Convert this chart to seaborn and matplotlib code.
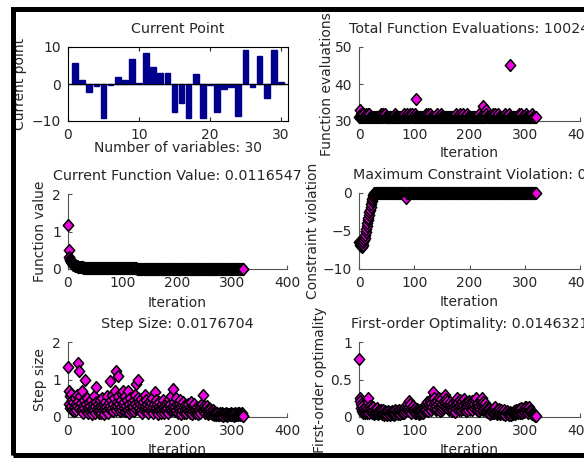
import numpy as np
import seaborn as sns
import matplotlib
matplotlib.use("Agg")
import matplotlib.pyplot as plt
from matplotlib.patches import Rectangle
from matplotlib.markers import MarkerStyle
from matplotlib.path import Path

# current point (30 variables)
var_index = list(range(1, 31))
current_point = [5.8, 1.0, -2.2, -0.6, -9.2, -0.3, 1.9, 1.0, 6.8, 0.2,
                 8.3, 4.5, 2.9, 3.0, -7.6, -5.0, -9.2, 2.7, -9.1, -0.4,
                 -7.6, -1.4, -0.9, -8.7, 9.1, -0.8, 7.5, -3.8, 9.1, 0.5]

# function evaluations per iteration (iterations 0..320)
func_evals = [
    31, 31, 33, 32, 31, 32, 31, 31, 32, 31, 31, 31, 32, 31, 31, 31, 32, 31, 31, 32,
    31, 31, 31, 31, 31, 31, 31, 31, 31, 31, 31, 31, 31, 31, 31, 31, 31, 31, 31, 31,
    32, 31, 31, 31, 32, 31, 31, 32, 31, 31, 31, 31, 31, 31, 31, 31, 31, 31, 31, 31,
    31, 31, 31, 31, 31, 32, 31, 31, 31, 31, 31, 31, 31, 31, 31, 31, 31, 31, 31, 31,
    31, 31, 32, 31, 31, 31, 32, 31, 31, 31, 31, 31, 31, 32, 31, 31, 32, 31, 31, 31,
    31, 32, 31, 31, 36, 31, 31, 31, 31, 31, 31, 31, 31, 31, 31, 31, 31, 31, 31, 31,
    31, 31, 32, 31, 31, 32, 31, 31, 31, 32, 31, 31, 31, 31, 31, 31, 31, 31, 31, 31,
    31, 31, 32, 31, 31, 31, 31, 31, 32, 31, 31, 31, 31, 31, 31, 31, 31, 31, 31, 31,
    31, 31, 31, 31, 31, 31, 31, 31, 31, 31, 31, 31, 31, 31, 31, 31, 32, 31, 31, 31,
    31, 31, 32, 31, 31, 31, 31, 31, 31, 32, 31, 31, 31, 31, 31, 31, 32, 31, 31, 31,
    31, 31, 31, 31, 31, 31, 31, 31, 31, 31, 31, 31, 31, 31, 31, 31, 31, 31, 32, 31,
    31, 31, 31, 31, 31, 34, 31, 31, 31, 33, 32, 31, 31, 31, 31, 31, 31, 31, 31, 31,
    31, 31, 32, 31, 31, 31, 31, 32, 31, 31, 31, 31, 32, 31, 31, 31, 31, 31, 31, 31,
    31, 31, 31, 31, 32, 31, 31, 31, 31, 31, 31, 31, 32, 31, 45, 31, 31, 31, 31, 31,
    31, 31, 31, 31, 31, 31, 31, 31, 31, 32, 31, 31, 31, 31, 32, 31, 31, 31, 31, 31,
    31, 31, 32, 31, 31, 31, 31, 31, 31, 31, 31, 31, 31, 31, 32, 31, 31, 31, 31, 31,
    31]

func_value = [
    1.18, 0.50, 0.33, 0.28, 0.24, 0.21, 0.19, 0.17, 0.15, 0.135,
    0.12, 0.11, 0.10, 0.092, 0.085, 0.079, 0.073, 0.068, 0.064, 0.060,
    0.057, 0.054, 0.051, 0.049, 0.047, 0.045, 0.043, 0.042, 0.040, 0.039,
    0.038, 0.037, 0.036, 0.035, 0.034, 0.033, 0.033, 0.032, 0.031, 0.031,
    0.030, 0.030, 0.029, 0.029, 0.028, 0.028, 0.027, 0.027, 0.027, 0.026,
    0.026, 0.026, 0.025, 0.025, 0.025, 0.024, 0.024, 0.024, 0.023, 0.023,
    0.023, 0.023, 0.022, 0.022, 0.022, 0.022, 0.021, 0.021, 0.021, 0.021,
    0.020, 0.020, 0.020, 0.020, 0.020, 0.019, 0.019, 0.019, 0.019, 0.019,
    0.019, 0.018, 0.018, 0.018, 0.018, 0.018, 0.018, 0.017, 0.017, 0.017,
    0.017, 0.017, 0.017, 0.017, 0.016, 0.016, 0.016, 0.016, 0.016, 0.016,
    0.016, 0.016, 0.016, 0.015, 0.015, 0.015, 0.015, 0.015, 0.015, 0.015,
    0.015, 0.015, 0.015, 0.014, 0.014, 0.014, 0.014, 0.014, 0.014, 0.014,
    0.014, 0.014, 0.014, 0.014, 0.014, 0.014, 0.013, 0.013, 0.013, 0.013,
    0.013, 0.013, 0.013, 0.013, 0.013, 0.013, 0.013, 0.013, 0.013, 0.013,
    0.0129, 0.0129, 0.0128, 0.0128, 0.0128, 0.0127, 0.0127, 0.0127, 0.0126, 0.0126,
    0.0126, 0.0126, 0.0125, 0.0125, 0.0125, 0.0125, 0.0124, 0.0124, 0.0124, 0.0124,
    0.0124, 0.0123, 0.0123, 0.0123, 0.0123, 0.0123, 0.0122, 0.0122, 0.0122, 0.0122,
    0.0122, 0.0122, 0.0121, 0.0121, 0.0121, 0.0121, 0.0121, 0.0121, 0.0121, 0.0120,
    0.0120, 0.0120, 0.0120, 0.0120, 0.0120, 0.0120, 0.0120, 0.0119, 0.0119, 0.0119,
    0.0119, 0.0119, 0.0119, 0.0119, 0.0119, 0.0119, 0.0119, 0.0119, 0.0119, 0.0119,
    0.0119, 0.0119, 0.0118, 0.0118, 0.0118, 0.0118, 0.0118, 0.0118, 0.0118, 0.0118,
    0.0118, 0.0118, 0.0118, 0.0118, 0.0118, 0.0118, 0.0118, 0.0118, 0.0118, 0.0118,
    0.0118, 0.0118, 0.0118, 0.0118, 0.0118, 0.0118, 0.0118, 0.0118, 0.0118, 0.0118,
    0.0118, 0.0118, 0.0118, 0.0118, 0.0118, 0.0118, 0.0117, 0.0117, 0.0117, 0.0117,
    0.0117, 0.0117, 0.0117, 0.0117, 0.0117, 0.0117, 0.0117, 0.0117, 0.0117, 0.0117,
    0.0117, 0.0117, 0.0117, 0.0117, 0.0117, 0.0117, 0.0117, 0.0117, 0.0117, 0.0117,
    0.0117, 0.0117, 0.0117, 0.0117, 0.0117, 0.0117, 0.0117, 0.0117, 0.0117, 0.0117,
    0.0117, 0.0117, 0.0117, 0.0117, 0.0117, 0.0117, 0.0117, 0.0117, 0.0117, 0.0117,
    0.0117, 0.0117, 0.0117, 0.0117, 0.0117, 0.0117, 0.0117, 0.0117, 0.0117, 0.0117,
    0.0117, 0.0117, 0.0117, 0.0117, 0.0117, 0.0117, 0.0117, 0.0117, 0.0117, 0.0117,
    0.0117, 0.0117, 0.0117, 0.0117, 0.0117, 0.0117, 0.0117, 0.0117, 0.0117, 0.0117,
    0.0117, 0.0117, 0.0117, 0.0117, 0.0117, 0.0117, 0.0117, 0.0117, 0.0117, 0.0117,
    0.0116547]

constraint_viol = [
    -6.5, -6.6, -6.8, -6.9, -7.0, -7.1, -7.0, -6.8, -6.5, -6.2,
    -5.9, -5.5, -5.1, -4.8, -4.4, -4.0, -3.6, -3.3, -2.9, -2.5,
    -2.2, -1.8, -1.5, -1.1, -0.8, -0.5, -0.3, -0.1, 0, 0,
    0, 0, 0, 0, 0, 0, 0, 0, 0, 0, 0, 0, 0, 0, 0, 0, 0, 0, 0, 0,
    0, 0, 0, 0, 0, 0, 0, 0, 0, 0, 0, 0, 0, 0, 0, 0, 0, 0, 0, 0,
    0, 0, 0, 0, 0, 0, 0, 0, 0, 0, 0, 0, 0, 0, 0, -0.6, 0, 0, 0, 0,
    0, 0, 0, 0, 0, 0, 0, 0, 0, 0, 0, 0, 0, 0, 0, 0, 0, 0, 0, 0,
    0, 0, 0, 0, 0, 0, 0, 0, 0, 0, 0, 0, 0, 0, 0, 0, 0, 0, 0, 0,
    0, 0, 0, 0, 0, 0, 0, 0, 0, 0, 0, 0, 0, 0, 0, 0, 0, 0, 0, 0,
    0, 0, 0, 0, 0, 0, 0, 0, 0, 0, 0, 0, 0, 0, 0, 0, 0, 0, 0, 0,
    0, 0, 0, 0, 0, 0, 0, 0, 0, 0, 0, 0, 0, 0, 0, 0, 0, 0, 0, 0,
    0, 0, 0, 0, 0, 0, 0, 0, 0, 0, 0, 0, 0, 0, 0, 0, 0, 0, 0, 0,
    0, 0, 0, 0, 0, 0, 0, 0, 0, 0, 0, 0, 0, 0, 0, 0, 0, 0, 0, 0,
    0, 0, 0, 0, 0, 0, 0, 0, 0, 0, 0, 0, 0, 0, 0, 0, 0, 0, 0, 0,
    0, 0, 0, 0, 0, 0, 0, 0, 0, 0, 0, 0, 0, 0, 0, 0, 0, 0, 0, 0,
    0, 0, 0, 0, 0, 0, 0, 0, 0, 0, 0, 0, 0, 0, 0, 0, 0, 0, 0, 0,
    0, 0, 0, 0, 0, 0, 0, 0, 0, 0, 0, 0, 0, 0, 0, 0, 0, 0, 0, 0,
    0, 0, 0, 0, 0, 0, 0, 0, 0, 0, 0]

step_size = [
    1.33, 0.70, 0.35, 0.55, 0.25, 0.62, 0.30, 0.18, 0.45, 0.22, 0.40, 0.15, 0.52, 0.28, 0.35, 0.20, 0.60, 0.30, 1.45, 0.42,
    0.25, 1.22, 0.55, 0.18, 0.38, 0.70, 0.22, 0.30, 0.12, 0.45, 0.25, 0.98, 0.35, 0.15, 0.50, 0.20, 0.28, 0.10, 0.40, 0.22,
    0.30, 0.15, 0.45, 0.20, 0.08, 0.35, 0.25, 0.55, 0.18, 0.30, 0.12, 0.40, 0.81, 0.22, 0.15, 0.35, 0.10, 0.28, 0.45, 0.20,
    0.30, 0.12, 0.25, 0.50, 0.18, 0.08, 0.35, 0.22, 0.40, 0.15, 0.28, 0.55, 0.20, 0.10, 0.38, 0.25, 0.97, 0.30, 0.45, 0.18,
    0.60, 0.25, 0.35, 0.15, 0.50, 0.28, 0.70, 0.20, 1.23, 0.40, 0.30, 1.10, 0.55, 0.22, 0.35, 0.15, 0.45, 0.28, 0.62, 0.20,
    0.35, 0.70, 0.25, 0.40, 0.15, 0.55, 0.30, 0.18, 0.45, 0.22, 0.70, 0.12, 0.35, 0.25, 0.50, 0.15, 0.30, 0.40, 0.20, 0.28,
    0.45, 0.15, 0.35, 0.60, 0.22, 0.87, 0.30, 0.50, 1.00, 0.40, 0.25, 0.35, 0.15, 0.48, 0.20, 0.30, 0.12, 0.40, 0.25, 0.18,
    0.60, 0.30, 0.22, 0.45, 0.15, 0.35, 0.25, 0.10, 0.40, 0.20, 0.30, 0.15, 0.38, 0.22, 0.50, 0.12, 0.28, 0.35, 0.66, 0.20,
    0.45, 0.25, 0.15, 0.35, 0.20, 0.08, 0.30, 0.40, 0.18, 0.25, 0.12, 0.35, 0.22, 0.45, 0.15, 0.28, 0.10, 0.32, 0.20, 0.38,
    0.15, 0.25, 0.40, 0.12, 0.30, 0.48, 0.20, 0.35, 0.25, 0.55, 0.18, 0.75, 0.30, 0.22, 0.40, 0.15, 0.28, 0.50, 0.20, 0.35,
    0.25, 0.12, 0.38, 0.22, 0.45, 0.15, 0.30, 0.08, 0.35, 0.20, 0.40, 0.28, 0.12, 0.33, 0.18, 0.25, 0.10, 0.30, 0.22, 0.15,
    0.35, 0.20, 0.28, 0.12, 0.40, 0.18, 0.25, 0.08, 0.30, 0.15, 0.22, 0.35, 0.10, 0.25, 0.18, 0.12, 0.28, 0.20, 0.08, 0.15,
    0.22, 0.30, 0.12, 0.25, 0.18, 0.35, 0.60, 0.20, 0.30, 0.15, 0.25, 0.10, 0.22, 0.30, 0.15, 0.08, 0.20, 0.25, 0.12, 0.18,
    0.22, 0.10, 0.15, 0.08, 0.18, 0.12, 0.06, 0.10, 0.14, 0.08, 0.05, 0.10, 0.07, 0.12, 0.06, 0.09, 0.05, 0.08, 0.11, 0.06,
    0.08, 0.05, 0.10, 0.07, 0.04, 0.09, 0.06, 0.08, 0.05, 0.10, 0.07, 0.04, 0.08, 0.06, 0.09, 0.05, 0.07, 0.10, 0.06, 0.08,
    0.05, 0.09, 0.07, 0.04, 0.08, 0.10, 0.06, 0.05, 0.09, 0.07, 0.11, 0.06, 0.08, 0.10, 0.05, 0.09, 0.07, 0.12, 0.06, 0.04,
    0.0176704]

first_order_opt = [
    0.77, 0.25, 0.22, 0.12, 0.18, 0.08, 0.15, 0.10, 0.06, 0.12, 0.05, 0.09, 0.14, 0.07, 0.11, 0.05, 0.20, 0.25, 0.10, 0.06,
    0.15, 0.08, 0.12, 0.05, 0.10, 0.07, 0.13, 0.04, 0.09, 0.06, 0.11, 0.05, 0.08, 0.12, 0.04, 0.07, 0.10, 0.05, 0.08, 0.06,
    0.09, 0.04, 0.07, 0.05, 0.10, 0.03, 0.06, 0.08, 0.04, 0.07, 0.05, 0.03, 0.06, 0.08, 0.04, 0.05, 0.07, 0.03, 0.06, 0.04,
    0.08, 0.05, 0.07, 0.03, 0.06, 0.09, 0.04, 0.07, 0.05, 0.08, 0.04, 0.06, 0.10, 0.05, 0.07, 0.04, 0.08, 0.06, 0.09, 0.05,
    0.07, 0.10, 0.06, 0.12, 0.08, 0.15, 0.10, 0.18, 0.12, 0.09, 0.22, 0.14, 0.08, 0.17, 0.11, 0.06, 0.13, 0.09, 0.15, 0.07,
    0.10, 0.06, 0.12, 0.08, 0.05, 0.11, 0.07, 0.09, 0.04, 0.08, 0.06, 0.10, 0.05, 0.09, 0.07, 0.12, 0.06, 0.10, 0.08, 0.14,
    0.09, 0.17, 0.11, 0.20, 0.13, 0.08, 0.18, 0.12, 0.22, 0.15, 0.10, 0.19, 0.14, 0.25, 0.34, 0.18, 0.25, 0.12, 0.20, 0.09,
    0.15, 0.22, 0.11, 0.18, 0.26, 0.13, 0.08, 0.20, 0.14, 0.24, 0.10, 0.17, 0.12, 0.21, 0.15, 0.29, 0.19, 0.24, 0.13, 0.18,
    0.22, 0.12, 0.17, 0.09, 0.15, 0.20, 0.11, 0.16, 0.08, 0.14, 0.19, 0.10, 0.13, 0.07, 0.16, 0.21, 0.12, 0.18, 0.25, 0.14,
    0.20, 0.10, 0.23, 0.15, 0.09, 0.18, 0.13, 0.21, 0.11, 0.16, 0.24, 0.12, 0.19, 0.08, 0.15, 0.20, 0.13, 0.17, 0.10, 0.22,
    0.14, 0.19, 0.11, 0.16, 0.21, 0.09, 0.15, 0.20, 0.12, 0.18, 0.23, 0.14, 0.25, 0.10, 0.17, 0.13, 0.19, 0.08, 0.15, 0.11,
    0.18, 0.22, 0.26, 0.14, 0.20, 0.10, 0.16, 0.12, 0.19, 0.08, 0.14, 0.10, 0.07, 0.12, 0.09, 0.05, 0.11, 0.07, 0.04, 0.09,
    0.06, 0.10, 0.05, 0.08, 0.12, 0.06, 0.09, 0.14, 0.07, 0.04, 0.10, 0.06, 0.08, 0.05, 0.11, 0.04, 0.07, 0.09, 0.05, 0.06,
    0.08, 0.04, 0.06, 0.09, 0.05, 0.03, 0.07, 0.05, 0.08, 0.04, 0.06, 0.03, 0.05, 0.07, 0.04, 0.06, 0.03, 0.05, 0.04, 0.06,
    0.05, 0.08, 0.04, 0.06, 0.09, 0.05, 0.07, 0.10, 0.06, 0.08, 0.11, 0.05, 0.09, 0.07, 0.12, 0.06, 0.10, 0.08, 0.11, 0.07,
    0.13, 0.09, 0.14, 0.08, 0.11, 0.06, 0.12, 0.09, 0.13, 0.07, 0.10, 0.05, 0.08, 0.06, 0.04, 0.05, 0.03, 0.04, 0.02, 0.03,
    0.0146321]

sns.set_style("white")
plt.rcParams["font.family"] = ["DejaVu Sans"]
plt.rcParams["font.size"] = 10
plt.rcParams["axes.titlesize"] = 10.3
plt.rcParams["axes.labelsize"] = 10

W, H = 584, 459
fig = plt.figure(figsize=(W / 100, H / 100), dpi=100)


def px_axes(x0, x1, ytop, ybot):
    return fig.add_axes([x0 / W, 1 - ybot / H, (x1 - x0) / W, (ybot - ytop) / H])


MAG = "#EE00E0"
AXC = "#555555"
# MATLAB-like diamond, a bit taller than wide
DIAMOND = MarkerStyle(Path([(0, 1), (0.88, 0), (0, -1), (-0.88, 0), (0, 1)],
                           [Path.MOVETO, Path.LINETO, Path.LINETO,
                            Path.LINETO, Path.CLOSEPOLY]))


def style_scatter_ax(ax):
    for s in ["top", "right"]:
        ax.spines[s].set_visible(False)
    for s in ["left", "bottom"]:
        ax.spines[s].set_color(AXC)
        ax.spines[s].set_linewidth(0.8)
    ax.tick_params(direction="in", length=3, width=0.8, color=AXC,
                   labelsize=10, pad=5, left=True, bottom=True)
    ax.set_xlim(0, 400)
    ax.set_xticks([0, 100, 200, 300, 400])
    ax.set_facecolor("white")


def draw_scatter(ax, yvals):
    iters = np.arange(len(yvals))
    sns.scatterplot(x=iters, y=yvals, ax=ax, marker=DIAMOND, s=72,
                    color=MAG, edgecolor="black", linewidth=1.1,
                    clip_on=False, zorder=3, legend=False)


# --- Current Point (bar) ---
ax1 = px_axes(68, 288, 47, 121)
sns.barplot(x=var_index, y=current_point, ax=ax1, native_scale=True,
            color="#00008C", saturation=1, errorbar=None, width=0.8,
            edgecolor="#00008C")
ax1.axhline(0, color="black", lw=0.9, zorder=4)
ax1.set_xlim(0, 31)
ax1.set_ylim(-10, 10)
ax1.set_xticks([0, 10, 20, 30])
ax1.set_yticks([-10, 0, 10])
for s in ax1.spines.values():
    s.set_visible(True)
    s.set_color("black")
    s.set_linewidth(0.8)
ax1.tick_params(direction="in", length=3, width=0.8, top=True, right=True,
                left=True, bottom=True, labelsize=10, pad=5)
ax1.set_title("Current Point", pad=10)
ax1.set_xlabel("Number of variables: 30")
ax1.set_ylabel("Current point")
ax1.xaxis.set_label_coords(0.5, -0.27)
ax1.yaxis.set_label_coords(-0.186, 0.5)

# --- Function evaluations ---
ax2 = px_axes(359, 580, 47, 121)
draw_scatter(ax2, func_evals)
style_scatter_ax(ax2)
ax2.set_ylim(30, 50)
ax2.set_yticks([30, 40, 50])
ax2.set_title("Total Function Evaluations: 10024", pad=10)
ax2.set_xlabel("Iteration")
ax2.set_ylabel("Function evaluations")
ax2.xaxis.set_label_coords(0.5, -0.34)
ax2.yaxis.set_label_coords(-0.113, 0.5)

# --- Function value ---
ax3 = px_axes(68, 287, 194, 269)
draw_scatter(ax3, func_value)
style_scatter_ax(ax3)
ax3.set_ylim(0, 2)
ax3.set_yticks([0, 1, 2])
ax3.set_title("Current Function Value: 0.0116547", pad=10)
ax3.set_xlabel("Iteration")
ax3.set_ylabel("Function value")
ax3.xaxis.set_label_coords(0.5, -0.36)
ax3.yaxis.set_label_coords(-0.096, 0.5)

# --- Constraint violation ---
ax4 = px_axes(359, 580, 193, 269)
draw_scatter(ax4, constraint_viol)
style_scatter_ax(ax4)
ax4.set_ylim(-10, 0)
ax4.set_yticks([-10, -5, 0])
ax4.set_title("Maximum Constraint Violation: 0", pad=10)
ax4.set_xlabel("Iteration")
ax4.set_ylabel("Constraint violation")
ax4.xaxis.set_label_coords(0.5, -0.34)
ax4.yaxis.set_label_coords(-0.176, 0.5)

# --- Step size ---
ax5 = px_axes(68, 287, 342, 417)
draw_scatter(ax5, step_size)
style_scatter_ax(ax5)
ax5.set_ylim(0, 2)
ax5.set_yticks([0, 1, 2])
ax5.set_title("Step Size: 0.0176704", pad=10)
ax5.set_xlabel("Iteration")
ax5.set_ylabel("Step size")
ax5.xaxis.set_label_coords(0.5, -0.34)
ax5.yaxis.set_label_coords(-0.096, 0.5)

# --- First-order optimality ---
ax6 = px_axes(359, 580, 342, 417)
draw_scatter(ax6, first_order_opt)
style_scatter_ax(ax6)
ax6.set_ylim(0, 1)
ax6.set_yticks([0, 0.5, 1])
ax6.set_yticklabels(["0", "0.5", "1"])
ax6.set_title("First-order Optimality: 0.0146321", pad=10)
ax6.set_xlabel("Iteration")
ax6.set_ylabel("First-order optimality")
ax6.xaxis.set_label_coords(0.5, -0.34)
ax6.yaxis.set_label_coords(-0.145, 0.5)

# window frame (cropped on the right)
frame = Rectangle((12.5 / W, 1 - 454.5 / H), 1.0, (454.5 - 8.5) / H,
                  transform=fig.transFigure, fill=False, edgecolor="black",
                  linewidth=3.6, zorder=10)
fig.patches.append(frame)

fig.savefig("out.png", dpi=100)
